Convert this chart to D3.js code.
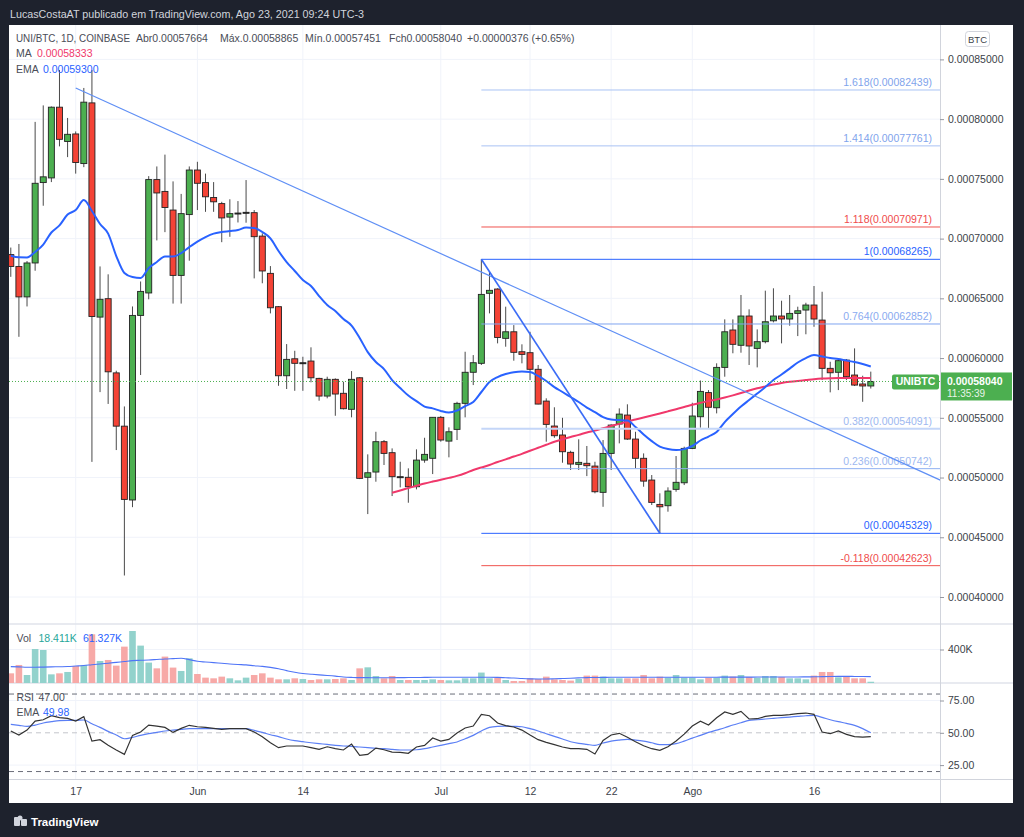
<!DOCTYPE html>
<html><head><meta charset="utf-8">
<script src="https://cdnjs.cloudflare.com/ajax/libs/d3/7.8.5/d3.min.js"></script>
<style>
html,body{margin:0;padding:0;background:#1e222d;}
svg{display:block;font-family:"Liberation Sans",Arial,sans-serif;}
</style></head><body>
<svg id="c" width="1024" height="837"></svg>
<script>
// ---------- DATA (prices in satoshis = 1e-8 BTC, volume in thousands) ----------
const startDate = new Date(Date.UTC(2021, 4, 9));   // first daily candle: 9 May 2021
const openSat = [68660,67670,65120,67960,74690,75080,81000,78130,78760,76280,
81360,63430,64970,58760,54300,48120,63570,65450,74940,73950,
72390,66920,72010,75740,74690,73440,72930,71800,72140,72200,
72170,70210,67090,64300,58520,59940,59610,59750,58300,56820,
58220,57050,55710,58350,50020,50460,53000,52080,50070,50020,
49230,51460,51610,55040,53050,54030,56210,58810,59560,65420,
65780,61650,62200,60530,60450,59060,56400,54310,53560,52110,
51100,51190,50960,48760,52020,54480,55230,53220,51610,49790,
47750,47640,49010,49560,52440,55090,57110,55840,59220,62350,
61070,63520,60810,61370,63120,63520,63270,63740,64020,64440,
63180,59140,58810,59830,58580,57830,57664];
const highSat = [69250,69550,68120,79770,81150,81060,84110,80100,78970,82610,
84110,67670,67010,58940,55950,64320,66410,75230,76040,77030,
74790,73740,76040,76430,75440,74730,73080,73290,73140,74900,
72390,70440,67700,64350,61170,60610,60110,60900,58350,58440,
58300,58020,58910,58410,51940,53830,53140,52440,51320,50770,
52360,53330,55040,55150,54200,56340,60530,60250,68265,67230,
65840,64300,62760,61150,62200,59420,56630,55880,55000,52240,
53200,52640,51320,53140,54450,55790,56130,53830,52020,50210,
48680,49180,51800,52580,56260,58120,57320,59560,63240,63240,
65280,64080,62400,65640,65840,64800,65280,64300,64630,66030,
65550,59690,59830,59920,60810,58520,58865];
const lowSat = [66800,61780,64320,67310,72750,74730,77720,76820,75440,75980,
51310,57150,56160,52300,41800,47520,58580,64920,69850,70540,
64560,64560,68150,72390,72240,72240,69700,70150,71350,71330,
66670,66260,63740,57680,57410,57260,57260,57970,56430,56630,
55170,55700,55040,49870,46940,49650,51050,48450,49180,47890,
49010,51240,50290,53000,51690,53140,55040,57740,59420,63740,
61230,60950,59780,59560,58160,56130,53000,53330,51240,50630,
50630,50120,48680,47550,50630,52860,53150,50770,49230,47700,
45329,47140,48810,49370,52380,54180,54120,55370,58440,60400,
60450,59420,59220,61230,62990,61230,62710,61840,61990,62620,
58160,57130,57320,58160,57660,56340,57451];
const closeSat = [67670,65120,67960,74630,75170,81000,78310,78730,76370,81420,
63480,64920,58850,54300,48170,63570,65580,74940,73820,72600,
66920,72090,75740,74630,73500,73080,71730,72090,72140,72200,
70160,67290,64210,58520,59890,59560,59610,58350,56820,58220,
56990,55760,58220,49930,50400,53000,52020,50070,50070,49230,
51460,51940,55040,53140,53830,56210,58810,59610,65330,65670,
61720,62200,60480,60310,59060,56150,54450,53500,52160,51130,
51270,50990,48810,52020,54390,55310,53220,51610,49700,47920,
47550,48870,49600,52440,55150,57210,55880,59220,62200,61150,
63520,61010,61370,63040,63520,63270,63740,63960,64440,63270,
59140,58770,59780,58440,57740,57664,58040];
const emaSat = [68570,68430,68420,68880,69500,70510,71110,72010,72390,73230,
72310,71220,70420,68540,67120,66780,66700,67540,68040,68500,
68500,68790,69290,69750,70130,70420,70550,70630,70720,70930,
70880,70550,70020,68960,68040,67290,66530,66030,65190,64440,
63940,63270,62720,61680,60500,59670,59080,58160,57490,56860,
56400,55940,55790,55570,55440,55610,55980,56320,57160,57990,
58410,58660,58810,58870,58830,58500,58080,57570,57160,56740,
56320,55860,55480,55060,54850,54810,54770,54230,53600,53050,
52590,52380,52300,52380,52640,53100,53430,53810,54640,55310,
55940,56490,57030,57570,58160,58620,59120,59630,60000,60250,
60130,60000,59920,59790,59670,59500,59300];
const maStartIndex = 47;   // MA line begins on 25 Jun
const maSat = [48730,48920,49120,49310,49500,49660,49810,49970,50140,50360,
50630,50840,51050,51300,51520,51760,51980,52240,52490,52740,
53000,53200,53390,53570,53770,53930,54120,54310,54490,54690,
54850,55020,55190,55360,55540,55720,55900,56090,56260,56400,
56540,56700,56880,57070,57280,57470,57630,57780,57910,58010,
58090,58160,58230,58280,58310,58330,58330,58333,58333,58333];
const volumeK = [118,217,98,406,394,106,118,134,205,217,
580,264,276,209,434,619,446,245,177,316,
186,146,296,110,67,59,79,59,35,67,
98,118,67,47,47,59,51,39,47,47,
51,59,39,177,189,86,59,86,39,39,
39,39,47,39,35,35,59,59,127,59,
67,39,27,27,59,51,79,47,39,32,
51,91,91,79,59,59,59,59,98,59,
79,67,98,67,67,47,67,67,91,79,
98,75,67,86,86,75,59,59,47,91,
134,134,71,79,59,59,18.411];
const volumeMaK = [197,194,190,190,192,194,196,198,204,210,
220,229,238,248,258,268,272,276,282,288,
292,296,280,260,252,245,237,229,223,218,
208,200,188,172,150,130,116,108,100,93,
85,75,70,67,67,66,66,66,67,68,
69,70,71,71,71,71,71,72,72,72,
70,66,62,56,52,51,51,53,56,60,
64,67,69,70,71,71,71,71,71,72,
72,72,72,72,72,72,72,72,73,73,
73,73,74,74,74,74,75,75,76,77,
79,81,82,82,81,80,79];
const volLegendMa = "61.327K";
const rsi = [51.4,48.3,52.1,59.1,60.1,63.2,61.7,61.2,59.1,62.5,
43.6,44.7,40.3,36.7,33.3,48.0,50.6,56.0,55.2,54.2,
50.3,53.4,55.8,54.7,54.2,53.4,52.7,53.2,53.2,53.2,
50.6,47.0,42.3,38.5,39.8,39.8,39.8,38.5,37.2,39.2,
37.7,36.7,41.3,32.5,33.3,38.2,36.9,35.1,34.9,34.1,
39.0,40.3,46.0,43.6,44.9,49.8,53.7,55.2,64.3,63.2,
57.6,55.5,54.5,52.1,48.3,44.7,42.6,40.8,39.0,37.7,
37.7,37.2,33.6,44.1,48.3,49.6,46.5,43.1,40.0,37.7,
36.4,39.2,43.6,49.0,55.2,58.9,56.0,61.7,66.1,64.3,
66.6,60.7,60.9,62.7,63.5,63.5,64.0,64.8,65.3,64.3,
50.6,49.3,51.4,48.8,47.0,46.7,47.0];
const rsiEma = [56.5,55.8,55.0,56.0,57.6,58.6,59.4,59.6,59.6,59.9,
57.0,54.2,51.1,48.3,45.4,46.5,48.0,49.3,50.3,51.4,
52.1,52.7,53.2,53.2,53.2,53.2,53.2,53.2,53.2,53.2,
51.9,50.3,48.5,47.0,45.2,43.9,43.1,42.3,41.6,41.0,
40.3,39.8,39.5,39.0,38.5,38.0,37.7,37.2,36.7,36.7,
36.9,37.7,39.0,40.3,41.6,42.9,45.4,48.0,51.4,54.2,
55.0,55.2,55.0,54.7,53.2,51.4,49.3,47.2,45.2,43.1,
41.8,41.0,40.3,42.1,43.6,44.4,44.9,44.4,43.6,42.3,
40.8,40.8,41.6,43.6,45.9,48.0,50.3,52.1,53.9,56.0,
57.8,59.6,60.1,60.7,61.2,61.7,62.2,62.7,63.2,63.5,
61.9,60.1,58.6,57.3,55.8,53.2,49.98];

// Fibonacci retracement (drawn from the 6 Jul high to the 28 Jul low)
const fibLevels = [1.618, 1.414, 1.118, 1, 0.764, 0.382, 0.236, 0, -0.118];
const fibPricesSat = [82439, 77761, 70971, 68265, 62852, 54091, 50742, 45329, 42623];
const fibStartDate = new Date(Date.UTC(2021, 6, 6));
// trend lines: [date, price]
const trendDown = [[new Date(Date.UTC(2021, 4, 17)), 82600], [new Date(Date.UTC(2021, 7, 23)), 52420]];
const trendFib = [[new Date(Date.UTC(2021, 6, 6)), 68265], [new Date(Date.UTC(2021, 6, 28)), 45329]];

const priceTicksSat = [40000,45000,50000,55000,60000,65000,70000,75000,80000,85000];
const timeTickDates = [new Date(Date.UTC(2021,4,17)), new Date(Date.UTC(2021,5,1)), new Date(Date.UTC(2021,5,14)),
  new Date(Date.UTC(2021,6,1)), new Date(Date.UTC(2021,6,12)), new Date(Date.UTC(2021,6,22)),
  new Date(Date.UTC(2021,7,1)), new Date(Date.UTC(2021,7,16))];
const timeTickLabels = ["17","Jun","14","Jul","12","22","Ago","16"];
const volTicksK = [400];
const rsiTicks = [25, 50, 75];
const lastPriceSat = 58040;

// ---------- LAYOUT ----------
const L = 9, R = 940, PR = 1013, T = 25, B = 803;
const mainBottom = 624, volBottom = 683, rsiBottom = 779;
const n = closeSat.length;
const dates = d3.range(n).map(i => d3.utcDay.offset(startDate, i));

const x = d3.scaleUtc().domain([new Date(Date.UTC(2021,4,17)), new Date(Date.UTC(2021,7,16))]).range([75.7, 814]);
const y = d3.scaleLinear().domain([40000, 85000]).range([597, 59.4]);
const yVol = d3.scaleLinear().domain([0, 400]).range([683.3, 649.5]);
const yRsi = d3.scaleLinear().domain([25, 75]).range([765.1, 700.5]);

const GREEN = "#4caf50", RED = "#f44336";
const svg = d3.select("#c");
svg.append("rect").attr("width", 1024).attr("height", 837).attr("fill", "#1e222d");
svg.append("rect").attr("x", L).attr("y", T).attr("width", PR - L).attr("height", B - T).attr("fill", "#ffffff");

// header
svg.append("text").attr("x", 10).attr("y", 17.5).attr("fill", "#d1d4dc").style("font-size", "11px")
  .attr("textLength", 354).attr("lengthAdjust", "spacingAndGlyphs")
  .text("LucasCostaAT publicado em TradingView.com, Ago 23, 2021 09:24 UTC-3");

const defs = svg.append("defs");
defs.append("clipPath").attr("id", "clipMain").append("rect").attr("x", L).attr("y", T).attr("width", R - L).attr("height", mainBottom - T);
defs.append("clipPath").attr("id", "clipVol").append("rect").attr("x", L).attr("y", mainBottom).attr("width", R - L).attr("height", volBottom - mainBottom);
defs.append("clipPath").attr("id", "clipRsi").append("rect").attr("x", L).attr("y", volBottom).attr("width", R - L).attr("height", rsiBottom - volBottom);

// grid
const grid = svg.append("g");
grid.selectAll(".vg").data(timeTickDates).join("line")
  .attr("x1", d => x(d)).attr("x2", d => x(d)).attr("y1", T).attr("y2", rsiBottom)
  .attr("stroke", "#f0f3fa").attr("stroke-width", 1);
grid.selectAll(".hg").data(priceTicksSat).join("line")
  .attr("x1", L).attr("x2", R).attr("y1", d => y(d)).attr("y2", d => y(d))
  .attr("stroke", "#f0f3fa");
grid.selectAll(".vgv").data(volTicksK).join("line")
  .attr("x1", L).attr("x2", R).attr("y1", d => yVol(d)).attr("y2", d => yVol(d)).attr("stroke", "#f0f3fa");
grid.selectAll(".rg").data([25, 75]).join("line")
  .attr("x1", L).attr("x2", R).attr("y1", d => yRsi(d)).attr("y2", d => yRsi(d)).attr("stroke", "#f0f3fa");

// pane separators / axis borders
const sep = svg.append("g").attr("stroke", "#e0e3eb");
sep.append("line").attr("x1", L).attr("x2", PR).attr("y1", mainBottom).attr("y2", mainBottom).attr("stroke-width", 1.5);
sep.append("line").attr("x1", L).attr("x2", PR).attr("y1", volBottom).attr("y2", volBottom).attr("stroke-width", 1.5);
sep.append("line").attr("x1", L).attr("x2", PR).attr("y1", rsiBottom + 0.5).attr("y2", rsiBottom + 0.5).attr("stroke", "#d1d4dc");
sep.append("line").attr("x1", R + 0.5).attr("x2", R + 0.5).attr("y1", T).attr("y2", B).attr("stroke", "#d1d4dc");

// ---------- MAIN PANE ----------
const main = svg.append("g").attr("clip-path", "url(#clipMain)");
const candles = d3.range(n).map(i => ({ d: dates[i], o: openSat[i], h: highSat[i], l: lowSat[i], c: closeSat[i] }));
const cg = main.append("g");
cg.selectAll("line").data(candles).join("line")
  .attr("x1", d => x(d.d)).attr("x2", d => x(d.d))
  .attr("y1", d => y(d.h)).attr("y2", d => y(d.l))
  .attr("stroke", "#4a4a4a").attr("stroke-width", 1);
cg.selectAll("rect").data(candles).join("rect")
  .attr("x", d => x(d.d) - 3).attr("width", 6)
  .attr("y", d => Math.min(y(d.o), y(d.c)))
  .attr("height", d => Math.max(1, Math.abs(y(d.o) - y(d.c))))
  .attr("fill", d => d.c > d.o ? GREEN : (d.c < d.o ? RED : "#222"))
  .attr("stroke", "#222").attr("stroke-width", 0.9);

// MA & EMA
const lineP = d3.line().x(d => x(d[0])).y(d => y(d[1])).curve(d3.curveMonotoneX);
main.append("path").datum(maSat.map((v, k) => [dates[maStartIndex + k], v]))
  .attr("d", lineP).attr("fill", "none").attr("stroke", "#f0386b").attr("stroke-width", 2);
main.append("path").datum(emaSat.map((v, i) => [dates[i], v]))
  .attr("d", lineP).attr("fill", "none").attr("stroke", "#2962ff").attr("stroke-width", 2);

// current price dotted line
main.append("line").attr("x1", L).attr("x2", R).attr("y1", y(lastPriceSat)).attr("y2", y(lastPriceSat))
  .attr("stroke", GREEN).attr("stroke-dasharray", "1,2").attr("stroke-width", 1);

// Fibonacci retracement
const fibStyle = {
  "1.618": ["#a9c3f4", "#7fa4ec", 1], "1.414": ["#a9c3f4", "#7fa4ec", 1], "1.118": ["#f0534f", "#ef4b4b", 1],
  "1": ["#2962ff", "#2962ff", 1], "0.764": ["#7fa4f0", "#8aaaf0", 1], "0.382": ["#c4d6f8", "#9db8f0", 2],
  "0.236": ["#8fb0f2", "#9db8f0", 1], "0": ["#2962ff", "#2962ff", 1], "-0.118": ["#f0534f", "#ef4b4b", 1]
};
const fib = main.append("g");
fibLevels.forEach((lv, k) => {
  const st = fibStyle[String(lv)];
  const yy = y(fibPricesSat[k]);
  fib.append("line").attr("x1", x(fibStartDate)).attr("x2", R).attr("y1", yy).attr("y2", yy)
    .attr("stroke", st[0]).attr("stroke-width", st[2]);
  fib.append("text").attr("x", 932).attr("y", yy - 4).attr("text-anchor", "end")
    .attr("fill", st[1]).style("font-size", "10.5px")
    .text(`${lv}(${(fibPricesSat[k] / 1e8).toFixed(8)})`);
});

// trend lines
function extendTo(pts, xRight) {
  const [d1, p1] = pts[0], [d2, p2] = pts[1];
  const dEnd = x.invert(xRight);
  const pEnd = p1 + (p2 - p1) * (dEnd - d1) / (d2 - d1);
  return [[d1, p1], [dEnd, pEnd]];
}
const straight = d3.line().x(d => x(d[0])).y(d => y(d[1]));
main.append("path").datum(extendTo(trendDown, R + 2)).attr("d", straight)
  .attr("stroke", "#5f8ff5").attr("stroke-width", 1.2).attr("fill", "none");
main.append("path").datum(trendFib).attr("d", straight)
  .attr("stroke", "#3b6cf6").attr("stroke-width", 1.7).attr("fill", "none");

// legend (main)
const lg = svg.append("g").style("font-size", "10.5px").attr("fill", "#4a4d57");
const l1 = lg.append("text").attr("x", 16).attr("y", 42);
l1.append("tspan").attr("textLength", 114).attr("lengthAdjust", "spacingAndGlyphs").text("UNI/BTC, 1D, COINBASE");
l1.append("tspan").attr("x", 136).text("Abr0.00057664");
l1.append("tspan").attr("x", 220).text("Máx.0.00058865");
l1.append("tspan").attr("x", 305).text("Mín.0.00057451");
l1.append("tspan").attr("x", 389).text("Fch0.00058040");
l1.append("tspan").attr("x", 467).text("+0.00000376 (+0.65%)");
const l2 = lg.append("text").attr("x", 16).attr("y", 57);
l2.append("tspan").text("MA");
l2.append("tspan").attr("x", 37).attr("fill", "#f0386b").text((maSat[maSat.length - 1] / 1e8).toFixed(8));
const l3 = lg.append("text").attr("x", 16).attr("y", 72.5);
l3.append("tspan").text("EMA");
l3.append("tspan").attr("x", 43).attr("fill", "#2962ff").text((emaSat[n - 1] / 1e8).toFixed(8));

// ---------- VOLUME PANE ----------
const vol = svg.append("g").attr("clip-path", "url(#clipVol)");
vol.selectAll("rect").data(d3.range(n)).join("rect")
  .attr("x", i => x(dates[i]) - 3.3).attr("width", 6.6)
  .attr("y", i => yVol(volumeK[i])).attr("height", i => yVol(0) - yVol(volumeK[i]))
  .attr("fill", i => closeSat[i] >= openSat[i] ? "#92d2cc" : "#f7a9a7");
vol.append("path").datum(volumeMaK.map((v, i) => [dates[i], v]))
  .attr("d", d3.line().x(d => x(d[0])).y(d => yVol(d[1])).curve(d3.curveMonotoneX))
  .attr("fill", "none").attr("stroke", "#4f74f7").attr("stroke-width", 1.1);
const vl = svg.append("text").attr("x", 16.5).attr("y", 642).style("font-size", "10.5px").attr("fill", "#4a4d57");
vl.append("tspan").text("Vol");
vl.append("tspan").attr("x", 38.5).attr("fill", "#26a69a").text(volumeK[n - 1].toFixed(3) + "K");
vl.append("tspan").attr("x", 83).attr("fill", "#2962ff").text(volLegendMa);

// ---------- RSI PANE ----------
const rp = svg.append("g").attr("clip-path", "url(#clipRsi)");
[[80, "#6a6d78"], [50, "#c3c5cb"], [20, "#6a6d78"]].forEach(([v, c]) => {
  rp.append("line").attr("x1", L).attr("x2", R).attr("y1", yRsi(v)).attr("y2", yRsi(v))
    .attr("stroke", c).attr("stroke-dasharray", "5,4").attr("stroke-width", 1);
});
rp.append("path").datum(rsiEma.map((v, i) => [dates[i], v]))
  .attr("d", d3.line().x(d => x(d[0])).y(d => yRsi(d[1])).curve(d3.curveMonotoneX))
  .attr("fill", "none").attr("stroke", "#5b7ff5").attr("stroke-width", 1.2);
rp.append("path").datum(rsi.map((v, i) => [dates[i], v]))
  .attr("d", d3.line().x(d => x(d[0])).y(d => yRsi(d[1])))
  .attr("fill", "none").attr("stroke", "#333").attr("stroke-width", 1.2);
const rl1 = svg.append("text").attr("x", 16.5).attr("y", 701).style("font-size", "10.5px").attr("fill", "#4a4d57");
rl1.append("tspan").text("RSI");
rl1.append("tspan").attr("x", 38.5).text(rsi[n - 1].toFixed(2));
const rl2 = svg.append("text").attr("x", 16.5).attr("y", 716).style("font-size", "10.5px").attr("fill", "#4a4d57");
rl2.append("tspan").text("EMA");
rl2.append("tspan").attr("x", 43).attr("fill", "#2962ff").text(rsiEma[n - 1].toFixed(2));

// ---------- AXES ----------
function styleAxis(sel) {
  sel.select(".domain").remove();
  sel.selectAll(".tick text").attr("fill", "#3c3f49").style("font-size", "10.5px")
    .style("font-family", "'Liberation Sans', Arial, sans-serif");
  sel.selectAll(".tick line").attr("stroke", "#9598a1");
}
svg.append("g").attr("transform", `translate(${R},0)`)
  .call(d3.axisRight(y).tickValues(priceTicksSat).tickFormat(d => (d / 1e8).toFixed(8)).tickSize(4).tickPadding(4))
  .call(styleAxis);
svg.append("g").attr("transform", `translate(${R},0)`)
  .call(d3.axisRight(yVol).tickValues(volTicksK).tickFormat(d => d + "K").tickSize(4).tickPadding(4))
  .call(styleAxis);
svg.append("g").attr("transform", `translate(${R},0)`)
  .call(d3.axisRight(yRsi).tickValues(rsiTicks).tickFormat(d => d.toFixed(2)).tickSize(4).tickPadding(4))
  .call(styleAxis);
svg.append("g").attr("transform", `translate(0,${rsiBottom})`)
  .call(d3.axisBottom(x).tickValues(timeTickDates).tickFormat((d, i) => timeTickLabels[i]).tickSize(0).tickPadding(9))
  .call(styleAxis);

// BTC currency box
svg.append("rect").attr("x", 965.5).attr("y", 31.5).attr("width", 24).attr("height", 15).attr("rx", 3)
  .attr("fill", "#fff").attr("stroke", "#d1d4dc");
svg.append("text").attr("x", 977.5).attr("y", 42.5).attr("text-anchor", "middle").style("font-size", "9.5px")
  .attr("fill", "#3c3f49").text("BTC");

// last price labels
const yl = y(lastPriceSat);
svg.append("rect").attr("x", 892).attr("y", yl - 7).attr("width", 47).attr("height", 15).attr("rx", 2).attr("fill", GREEN);
svg.append("text").attr("x", 915.5).attr("y", yl + 4).attr("text-anchor", "middle").attr("fill", "#fff")
  .style("font-size", "10.5px").style("font-weight", "bold").text("UNIBTC");
svg.append("rect").attr("x", 941).attr("y", yl - 9).attr("width", 71).attr("height", 28).attr("fill", GREEN);
svg.append("text").attr("x", 947).attr("y", yl + 3.5).attr("fill", "#fff").style("font-size", "10.5px")
  .style("font-weight", "bold").text((lastPriceSat / 1e8).toFixed(8));
svg.append("text").attr("x", 947).attr("y", yl + 15.5).attr("fill", "#e8f5e9").style("font-size", "10px").text("11:35:39");

// footer logo
const logo = svg.append("g").attr("fill", "#d1d4dc");
logo.append("rect").attr("x", 14).attr("y", 817).attr("width", 6).attr("height", 9).attr("rx", 1);
logo.append("rect").attr("x", 21).attr("y", 819).attr("width", 6).attr("height", 7).attr("rx", 1);
logo.append("circle").attr("cx", 20).attr("cy", 818).attr("r", 2.5);
svg.append("text").attr("x", 31).attr("y", 826).attr("fill", "#ffffff").style("font-size", "11.5px")
  .style("font-weight", "bold").text("TradingView");
</script></body></html>
